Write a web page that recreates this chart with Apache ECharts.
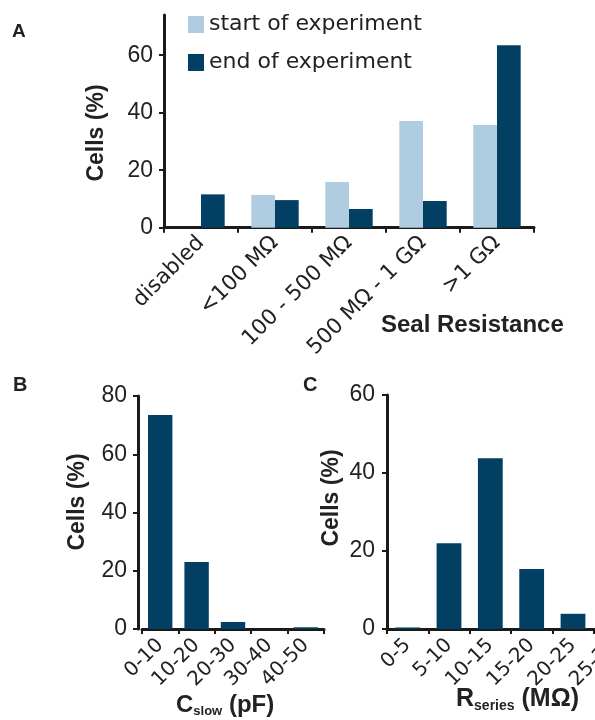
<!DOCTYPE html>
<html>
<head>
<meta charset="utf-8">
<script src="https://cdn.jsdelivr.net/npm/echarts@6.0.0/dist/echarts.min.js"></script>
<style>
html,body{margin:0;padding:0;background:#fff;}
#chart{width:595px;height:720px;}
</style>
</head>
<body>
<div id="chart"></div>
<script>
// ---- Data ----
var sealCategories = ['disabled', '<100 MΩ', '100 - 500 MΩ', '500 MΩ - 1 GΩ', '>1 GΩ'];
var sealStart = [0, 11.4, 15.9, 37.1, 35.7];
var sealEnd = [11.6, 9.6, 6.5, 9.3, 63.5];
var sealTicks = [0, 20, 40, 60];

var cslowCategories = ['0-10', '10-20', '20-30', '30-40', '40-50'];
var cslowValues = [73.5, 23.0, 2.4, 0, 0.6];
var cslowTicks = [0, 20, 40, 60, 80];

var rseriesCategories = ['0-5', '5-10', '10-15', '15-20', '20-25', '25-30'];
var rseriesValues = [0.4, 22.0, 43.8, 15.4, 3.9, 8.0];
var rseriesTicks = [0, 20, 40, 60];

// ---- Styles ----
var LIGHT = '#b0cce1';
var DARK = '#023f63';
var AX = '#1a1a1a';
var TXT = '#222222';
var REG = 'DejaVu Sans';
var NUM = 'Liberation Sans';
var BOLD = 'Liberation Sans';

function catAxis(grid, data, fs, margin) {
  return {
    type: 'category', gridIndex: grid, data: data,
    axisLine: {show: true, lineStyle: {color: AX, width: 3}},
    axisTick: {show: true, length: 5, lineStyle: {color: AX, width: 2}},
    axisLabel: {rotate: 45, margin: margin, fontSize: fs, fontFamily: REG, color: TXT, interval: 0},
    splitLine: {show: false}
  };
}
function valAxis(grid, max, ticks, margin, offset) {
  return {
    type: 'value', gridIndex: grid, min: 0, max: max, interval: 20,
    offset: offset || 0,
    axisLine: {show: true, lineStyle: {color: AX, width: 3}},
    axisTick: {show: true, length: 5, customValues: ticks, lineStyle: {color: AX, width: 2}},
    axisLabel: {customValues: ticks, margin: margin, fontSize: 23, fontFamily: NUM, color: TXT},
    splitLine: {show: false}
  };
}
function yName(x, y) {
  return {type: 'text', x: x, y: y, rotation: Math.PI / 2,
    style: {text: 'Cells (%)', font: 'bold 23px "Liberation Sans"', fill: TXT,
            textAlign: 'center', textVerticalAlign: 'middle'}};
}
function subLabel(left, top, main, sub, tail, fs, sfs) {
  return {type: 'text', left: left, top: top, style: {
    text: '{m|' + main + '}{s|' + sub + '}{m|' + tail + '}', fill: TXT,
    rich: {
      m: {fontFamily: BOLD, fontWeight: 'bold', fontSize: fs, fill: TXT},
      s: {fontFamily: BOLD, fontWeight: 'bold', fontSize: sfs, fill: TXT, padding: [13, 0, 0, 0]}
    }}};
}

var chart = echarts.init(document.getElementById('chart'), null, {renderer: 'canvas'});
chart.setOption({
  backgroundColor: '#fff',
  animation: false,
  grid: [
    {left: 164, top: 15, width: 370, height: 212.7, containLabel: false, outerBoundsMode: 'none'},
    {left: 142, top: 396, width: 182, height: 233, containLabel: false, outerBoundsMode: 'none'},
    {left: 387, top: 395, width: 248, height: 234, containLabel: false, outerBoundsMode: 'none'}
  ],
  legend: {
    orient: 'vertical', left: 188, top: 13.5, itemWidth: 16, itemHeight: 17, itemGap: 16,
    icon: 'rect', padding: 0,
    textStyle: {fontFamily: REG, fontSize: 22, color: TXT},
    data: ['start of experiment', 'end of experiment']
  },
  xAxis: [
    catAxis(0, sealCategories, 21.5, 12),
    catAxis(1, cslowCategories, 20, 13),
    catAxis(2, rseriesCategories, 20, 13)
  ],
  yAxis: [
    valAxis(0, 74, sealTicks, 11, 0),
    valAxis(1, 80, cslowTicks, 11, 4),
    valAxis(2, 60, rseriesTicks, 12, 0)
  ],
  series: [
    {name: 'start of experiment', type: 'bar', xAxisIndex: 0, yAxisIndex: 0, data: sealStart,
     itemStyle: {color: LIGHT}, barGap: '0%', barCategoryGap: '36%'},
    {name: 'end of experiment', type: 'bar', xAxisIndex: 0, yAxisIndex: 0, data: sealEnd,
     itemStyle: {color: DARK}, barGap: '0%', barCategoryGap: '36%'},
    {name: 'Cslow', type: 'bar', xAxisIndex: 1, yAxisIndex: 1, data: cslowValues,
     itemStyle: {color: DARK}, barCategoryGap: '33%'},
    {name: 'Rseries', type: 'bar', xAxisIndex: 2, yAxisIndex: 2, data: rseriesValues,
     itemStyle: {color: DARK}, barCategoryGap: '40%'}
  ],
  graphic: [
    {type: 'text', left: 12, top: 22, style: {text: 'A', font: 'bold 19px "Liberation Sans"', fill: TXT}},
    {type: 'text', left: 13, top: 375, style: {text: 'B', font: 'bold 20px "Liberation Sans"', fill: TXT}},
    {type: 'text', left: 303, top: 375, style: {text: 'C', font: 'bold 20px "Liberation Sans"', fill: TXT}},
    {type: 'text', left: 381, top: 313, style: {text: 'Seal Resistance', font: 'bold 24px "Liberation Sans"', fill: TXT}},
    yName(97, 133),
    yName(78, 502),
    yName(332, 498),
    subLabel(176, 693, 'C', 'slow', ' (pF)', 24, 13),
    subLabel(456, 687, 'R', 'series', ' (MΩ)', 25, 14)
  ]
});
</script>
</body>
</html>
